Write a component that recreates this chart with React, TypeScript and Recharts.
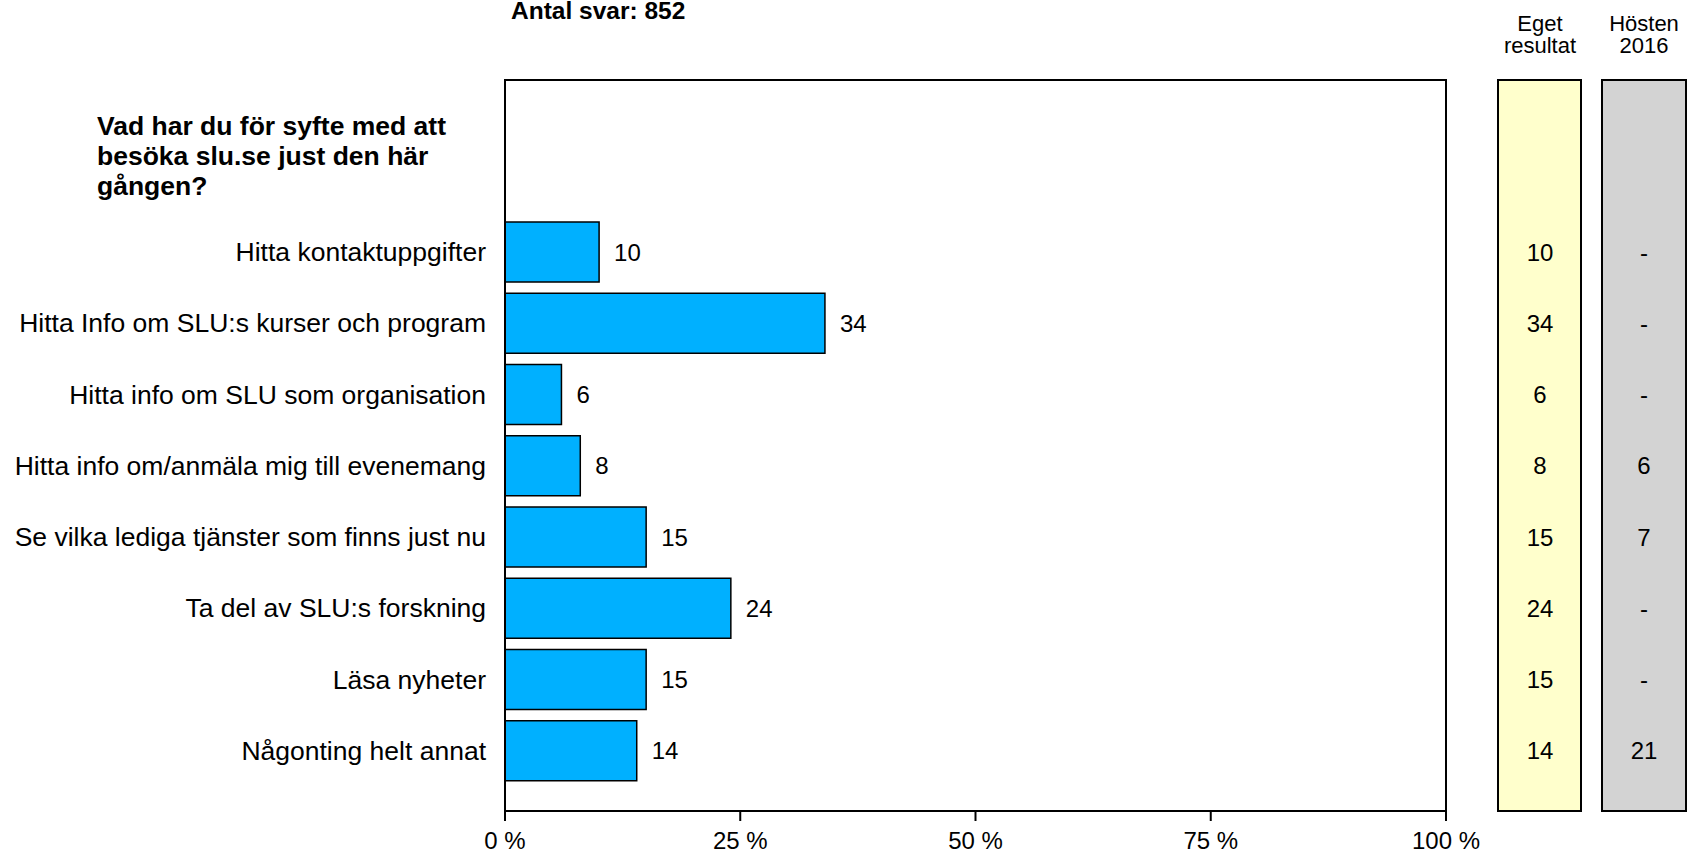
import { Bar, BarChart, LabelList, XAxis, YAxis, usePlotArea } from "recharts";

const TITLE = "Antal svar: 852";
const QUESTION = ["Vad har du för syfte med att", "besöka slu.se just den här", "gången?"];

const categories = [
  "Hitta kontaktuppgifter",
  "Hitta Info om SLU:s kurser och program",
  "Hitta info om SLU som organisation",
  "Hitta info om/anmäla mig till evenemang",
  "Se vilka lediga tjänster som finns just nu",
  "Ta del av SLU:s forskning",
  "Läsa nyheter",
  "Någonting helt annat",
];
const egetResultat = [10, 34, 6, 8, 15, 24, 15, 14];
const hosten2016 = ["-", "-", "-", "6", "7", "-", "-", "21"];
const xTicks = [0, 25, 50, 75, 100];

const FONT = "'Liberation Sans', Arial, Helvetica, sans-serif";
const W = 1689;
const H = 853;

const data = categories.map((name, i) => ({
  name,
  value: egetResultat[i],
  eget: String(egetResultat[i]),
  hosten: hosten2016[i],
}));

function columnLabel(cx: number) {
  return (props: any) => {
    const vb = props.viewBox ?? {};
    const y = vb.y ?? props.y;
    const h = vb.height ?? props.height;
    return (
      <text
        x={cx}
        y={y + h / 2}
        textAnchor="middle"
        dominantBaseline="central"
        fontSize={24}
        fontFamily={FONT}
        fill="#000"
      >
        {props.value}
      </text>
    );
  };
}

// box round the plot area (top and right edges; left/bottom come from the axes)
function PlotFrame() {
  const area = usePlotArea ? usePlotArea() : undefined;
  if (!area) return null;
  return (
    <rect x={area.x} y={area.y} width={area.width} height={area.height} fill="none" stroke="#000" strokeWidth={2} />
  );
}

const line = { stroke: "#000", strokeWidth: 2 };

export default function App() {
  return (
    <div style={{ position: "absolute", left: 0, top: 0, width: W, height: H, background: "#fff" }}>
      <svg width={W} height={H} style={{ position: "absolute", left: 0, top: 0 }}>
        <text x={511} y={19} fontSize={24.5} fontWeight="bold" fontFamily={FONT} fill="#000">
          {TITLE}
        </text>
        {QUESTION.map((q, i) => (
          <text key={q} x={97} y={135 + i * 30} fontSize={26.5} fontWeight="bold" fontFamily={FONT} fill="#000">
            {q}
          </text>
        ))}
        <text x={1540} y={31} textAnchor="middle" fontSize={22} fontFamily={FONT} fill="#000">
          Eget
        </text>
        <text x={1540} y={53} textAnchor="middle" fontSize={22} fontFamily={FONT} fill="#000">
          resultat
        </text>
        <text x={1644} y={31} textAnchor="middle" fontSize={22} fontFamily={FONT} fill="#000">
          Hösten
        </text>
        <text x={1644} y={53} textAnchor="middle" fontSize={22} fontFamily={FONT} fill="#000">
          2016
        </text>
        <rect x={1498} y={80} width={83} height={731} fill="#ffffcc" stroke="#000" strokeWidth={2} />
        <rect x={1602} y={80} width={84} height={731} fill="#d3d3d3" stroke="#000" strokeWidth={2} />
      </svg>
      <div style={{ position: "absolute", left: 0, top: 0 }}>
        <BarChart
          width={W}
          height={H}
          data={data}
          layout="vertical"
          margin={{ top: 80, right: 243, bottom: 0, left: 0 }}
        >
          <XAxis
            type="number"
            domain={[0, 100]}
            ticks={xTicks}
            interval={0}
            height={42}
            tickFormatter={(v) => `${v} %`}
            axisLine={line}
            tickLine={line}
            tickSize={10}
            tickMargin={11}
            tick={{ fill: "#000", fontSize: 24, fontFamily: FONT }}
          />
          <YAxis
            type="category"
            dataKey="name"
            width={505}
            padding={{ top: 136, bottom: 25 }}
            axisLine={line}
            tickLine={false}
            tickSize={0}
            tickMargin={19}
            interval={0}
            tick={{ fill: "#000", fontSize: 26.5, fontFamily: FONT }}
          />
          <PlotFrame />
          <Bar dataKey="value" fill="#00b0ff" stroke="#000" strokeWidth={1.5} barSize={60} isAnimationActive={false}>
            <LabelList
              dataKey="value"
              position="right"
              offset={15}
              fill="#000"
              fontSize={24}
              fontFamily={FONT}
            />
            <LabelList dataKey="eget" content={columnLabel(1540)} />
            <LabelList dataKey="hosten" content={columnLabel(1644)} />
          </Bar>
        </BarChart>
      </div>
    </div>
  );
}
